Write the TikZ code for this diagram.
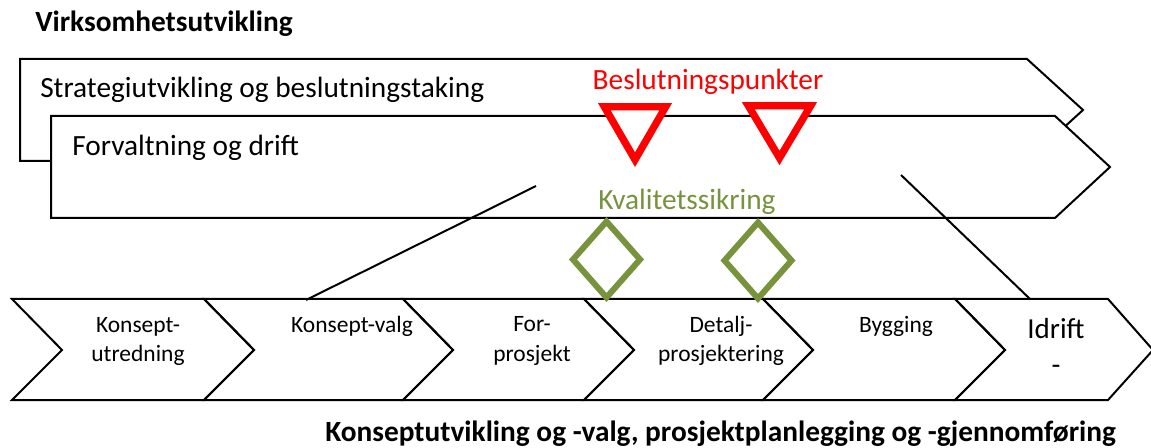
\documentclass[tikz,border=0pt]{standalone}
\usepackage{fontspec}
\setmainfont{Carlito}
\definecolor{qgreen}{HTML}{77933C}
\begin{document}
\begin{tikzpicture}[x=0.75pt,y=-0.75pt,
  band/.style={draw=black,line width=1.5pt,fill=white,line join=miter},
  chev/.style={draw=black,line width=1.5pt,line join=miter},
  link/.style={draw=black,line width=1.5pt},
  gate/.style={draw=red,line width=5.5pt,fill=white,line join=miter},
  check/.style={draw=qgreen,line width=4.5pt,fill=white,line join=miter},
  big/.style={font=\fontsize{22pt}{26pt}\selectfont,inner sep=0pt},
  small/.style={font=\fontsize{17.6pt}{21.75pt}\selectfont,align=center,inner sep=0pt},
  title/.style={font=\bfseries\fontsize{22pt}{26pt}\selectfont,inner sep=0pt}]
\path[use as bounding box] (0,0) rectangle (1151,448);

% upper band: strategy
\draw[band] (20,59) -- (1027,59) -- (1083,110) -- (1027,161) -- (20,161) -- cycle;
% lower band: operations
\draw[band] (51,116) -- (1055,116) -- (1110,167) -- (1055,218) -- (51,218) -- cycle;

% process chevrons
\foreach \a/\b/\tip in {12/204/254, 204/403/453, 403/584/634, 584/763/813, 763/955/1005, 955/1108/1153}{
  \draw[chev] (\a,299) -- (\b,299) -- (\tip,350) -- (\b,400) -- (\a,400) -- (\a+50,350) -- cycle;
}

% links between the bands and the process
\coordinate (l1a) at (536,186);
\coordinate (l1b) at (306,300);
\coordinate (l2a) at (901,175);
\coordinate (l2b) at (1030,299);
\draw[link] (l1a) -- (l1b);
\draw[link] (l2a) -- (l2b);

% decision points
\draw[gate] (604.3,106.7) -- (665.7,106.7) -- (635,159.7) -- cycle;
\draw[gate] (748.3,105.7) -- (810.7,105.7) -- (779.5,158) -- cycle;

% quality assurance
\draw[check] (606.5,221.5) -- (640,259.5) -- (606.5,297.5) -- (573,259.5) -- cycle;
\draw[check] (758,222.5) -- (791.5,260.5) -- (758,298.5) -- (724.5,260.5) -- cycle;

% texts
\node[title,anchor=base west] (t1) at (35,32) {Virksomhetsutvikling};
\node[title,anchor=base west] (t2) at (325,441) {Konseptutvikling og -valg, prosjektplanlegging og -gjennomføring};
\node[big,anchor=base west] (strat) at (40,98) {Strategiutvikling og beslutningstaking};
\node[big,anchor=base west] (drift) at (72,156) {Forvaltning og drift};
\node[big,anchor=base,text=red] (bp) at (708,90) {Beslutningspunkter};
\node[big,anchor=base,text=qgreen] (kv) at (687,210) {Kvalitetssikring};

% multi-line labels are anchored at the baseline of their last line
\node[small,anchor=base] (c1) at (138,362) {Konsept-\\utredning};
\node[small,anchor=base] (c2) at (352,333) {Konsept-valg};
\node[small,anchor=base] (c3) at (532,361) {For-\\prosjekt};
\node[small,anchor=base] (c4) at (721,362) {Detalj-\\prosjektering};
\node[small,anchor=base] (c5) at (896,333) {Bygging};
\node[big,align=center,anchor=base,font=\fontsize{21.75pt}{27pt}\selectfont] (c6) at (1056,374) {Idrift\\-};
\end{tikzpicture}
\end{document}
